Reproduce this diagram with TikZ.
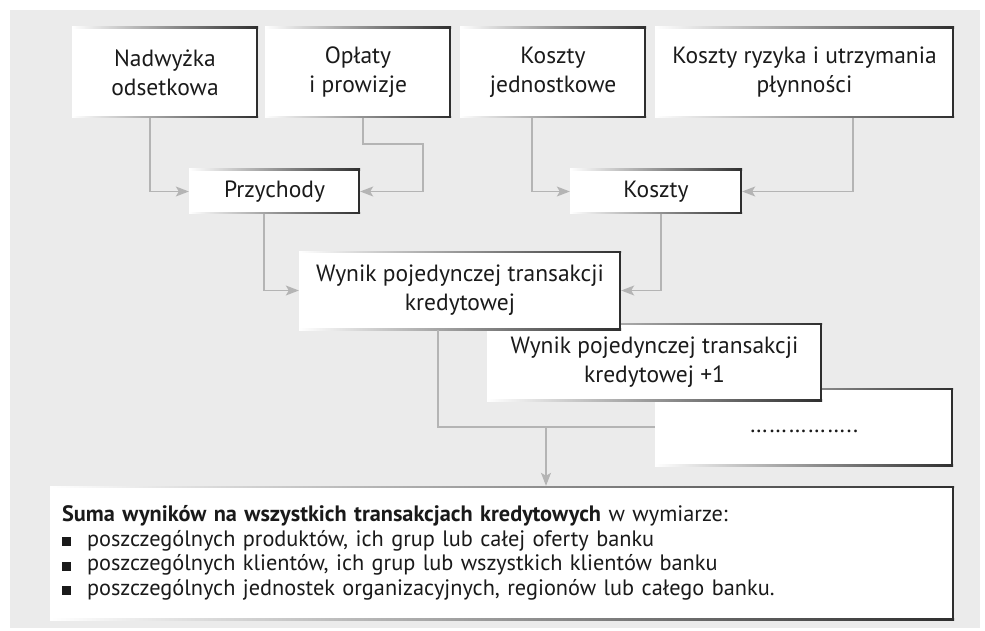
\documentclass[tikz,border=0pt]{standalone}
\usepackage{fontspec}
\setmainfont{PT Sans}
\usetikzlibrary{arrows.meta}
\definecolor{panelgray}{HTML}{EBEBEB}
\definecolor{wiregray}{HTML}{B4B4B4}
\definecolor{edgedark}{HTML}{2E2E2E}
\definecolor{inkdark}{HTML}{1A1A1A}
\newcommand\sqbullet{\makebox[25pt][l]{\rule{9pt}{9pt}}}
\begin{document}
\begin{tikzpicture}[x=1pt,y=-1pt,
  card/.style={fill=white, align=center, inner sep=0pt, text=inkdark,
    font=\fontsize{23.5}{29}\selectfont,
    path picture={
      \shade[left color=white, right color=edgedark]
        (path picture bounding box.north west) rectangle ([yshift=-1.6pt]path picture bounding box.north east);
      \shade[left color=white, right color=edgedark]
        (path picture bounding box.south west) rectangle ([yshift=1.6pt]path picture bounding box.south east);
      \fill[edgedark]
        (path picture bounding box.north east) rectangle ([xshift=-2.2pt]path picture bounding box.south east);
    }},
  link/.style={draw=wiregray, line width=1.1pt},
  feed/.style={link, -{Stealth[length=13pt,width=10pt,inset=3pt]}}]

\useasboundingbox (0,0) rectangle (985,631);
\fill[panelgray] (10,10) rectangle (980,628);

% top row: sources of revenue and cost
\node[card, minimum width=186pt, minimum height=91pt] (nad) at (165,72.5) {Nadwyżka\\odsetkowa};
\node[card, minimum width=186pt, minimum height=91pt] (opl) at (358,72.5) {Opłaty\\i prowizje};
\node[card, minimum width=186pt, minimum height=91pt] (kj) at (553,72.5) {Koszty\\jednostkowe};
\node[card, minimum width=299pt, minimum height=91pt] (kr) at (804.5,72.5) {Koszty ryzyka i utrzymania\\płynności};

% aggregates
\node[card, minimum width=171pt, minimum height=45pt] (prz) at (274.5,191.5) {Przychody};
\node[card, minimum width=172pt, minimum height=45pt] (kos) at (656,191.5) {Koszty};

% stacked results of single transactions
\node[card, minimum width=298pt, minimum height=78pt] (dots) at (804,427) {\strut……………..};
\node[card, minimum width=335pt, minimum height=78pt] (wyn1) at (654.5,362) {Wynik pojedynczej transakcji\\kredytowej +1};
\node[card, minimum width=322pt, minimum height=79pt] (wyn) at (460,290.5) {Wynik pojedynczej transakcji\\kredytowej};

% summary
\node[card, minimum width=904pt, minimum height=134pt, text width=880pt, align=left,
      font=\fontsize{22.3}{24.5}\selectfont] (suma) at (502,553)
  {\textbf{Suma wyników na wszystkich transakcjach kredytowych} w wymiarze:\\
   \sqbullet poszczególnych produktów, ich grup lub całej oferty banku\\
   \sqbullet poszczególnych klientów, ich grup lub wszystkich klientów banku\\
   \sqbullet poszczególnych jednostek organizacyjnych, regionów lub całego banku.};

% connectors
\coordinate (oplbend) at (423,144);
\coordinate (merge) at (546,427);
\draw[feed] ([xshift=-15pt]nad.south) |- (prz.west);
\draw[feed] ([xshift=5pt]opl.south) |- (oplbend) |- (prz.east);
\draw[feed] ([xshift=-21pt]kj.south) |- (kos.west);
\draw[feed] ([xshift=48.5pt]kr.south) |- (kos.east);
\draw[feed] ([xshift=-10.5pt]prz.south) |- (wyn.west);
\draw[feed] ([xshift=5pt]kos.south) |- (wyn.east);
\draw[link] ([xshift=-22pt]wyn.south) |- (dots.west);
\draw[feed] (merge) -- (merge |- suma.north);
\end{tikzpicture}
\end{document}
